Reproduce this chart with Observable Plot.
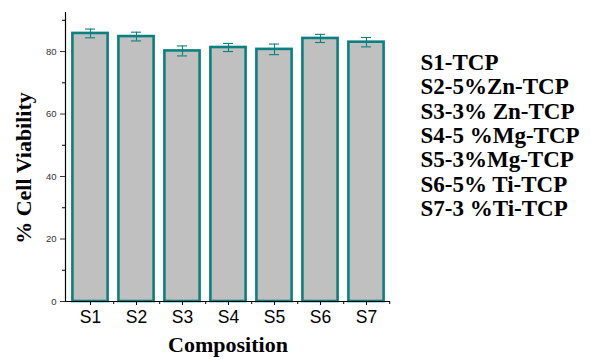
<!DOCTYPE html>
<html>
<head>
<meta charset="utf-8">
<script src="https://cdn.jsdelivr.net/npm/d3@7"></script>
<script src="https://cdn.jsdelivr.net/npm/@observablehq/plot@0.6"></script>
<style>
  html, body { margin: 0; padding: 0; background: #fff; }
  #chart { position: relative; width: 591px; height: 360px; }
  #ylab { position: absolute; left: 24px; top: 168px; width: 0; height: 0; }
  #ylab span { position: absolute; left: 0; top: 0; transform: translate(-50%, -50%) rotate(-90deg); white-space: nowrap;
    font: bold 22px 'Liberation Serif', 'Times New Roman', serif; color: #000; line-height: 1; }
</style>
</head>
<body>
<div id="chart"><div id="ylab"><span></span></div></div>
<script>
const categories = ["S1", "S2", "S3", "S4", "S5", "S6", "S7"];
const viability = [85.8, 84.8, 80.2, 81.3, 80.7, 84.2, 83.0];
const errors = [1.4, 1.4, 1.6, 1.3, 1.7, 1.3, 1.5];
const majorTicks = [0, 20, 40, 60, 80];
const minorTicks = [10, 30, 50, 70, 90];
const legendLines = ["S1-TCP", "S2-5%Zn-TCP", "S3-3% Zn-TCP", "S4-5 %Mg-TCP", "S5-3%Mg-TCP", "S6-5% Ti-TCP", "S7-3 %Ti-TCP"];
const yLabel = "% Cell Viability";
const xLabel = "Composition";

const data = categories.map((c, i) => ({cat: c, v: viability[i], lo: viability[i] - errors[i], hi: viability[i] + errors[i]}));

const teal = "#0b8080";
const serif = "'Liberation Serif', 'Times New Roman', serif";
const sans = "'Liberation Sans', Arial, sans-serif";
const W = 591, H = 360, mL = 65, mR = 201, mT = 12, mB = 59;
const half = (W - mL - mR) / categories.length / 2;

const chart = Plot.plot({
  width: W, height: H,
  marginLeft: mL, marginRight: mR, marginTop: mT, marginBottom: mB,
  style: {background: "#fff", overflow: "visible"},
  x: {type: "band", domain: categories, padding: 0, label: null},
  y: {domain: [0, 92.5], label: null},
  marks: [
    Plot.barY(data, {x: "cat", y: "v", fill: "#c0c0c0", stroke: teal, strokeWidth: 2.6, insetLeft: 5.4, insetRight: 5.4}),
    Plot.ruleX(data, {x: "cat", y1: "lo", y2: "hi", stroke: teal, strokeWidth: 1.1}),
    Plot.tickY(data, {x: "cat", y: "lo", stroke: teal, strokeWidth: 1.1, inset: 18}),
    Plot.tickY(data, {x: "cat", y: "hi", stroke: teal, strokeWidth: 1.1, inset: 18}),
    Plot.frame({anchor: "left", stroke: "#000", strokeWidth: 1.2}),
    Plot.ruleY([0], {stroke: "#000", strokeWidth: 1.2}),
    Plot.axisY({ticks: majorTicks, tickSize: 5, tickPadding: 4, fontSize: 9.5, fontFamily: sans, color: "#333", label: null, tickFormat: d => d}),
    Plot.axisY({ticks: minorTicks, tickSize: 3, text: null, label: null}),
    Plot.axisX({tickSize: 4, tickPadding: 5, fontSize: 17.5, fontFamily: sans, color: "#000", label: null}),
    Plot.ruleX(categories, {x: d => d, y1: 0, y2: 0, dx: half, insetBottom: -3, stroke: "#000", strokeWidth: 1}),
    Plot.text([xLabel], {frameAnchor: "bottom", dy: 50, fontSize: 22, fontWeight: "bold", fontFamily: serif, fill: "#000"}),
    Plot.text([legendLines.join("\n")], {frameAnchor: "top-right", textAnchor: "start", lineAnchor: "top", dx: 30, dy: 40, lineHeight: 1.06, fontSize: 23, fontWeight: "bold", fontFamily: serif, fill: "#000"})
  ]
});
const root = document.getElementById("chart");
root.insertBefore(chart, root.firstChild);
document.querySelector("#ylab span").textContent = yLabel;
</script>
</body>
</html>
